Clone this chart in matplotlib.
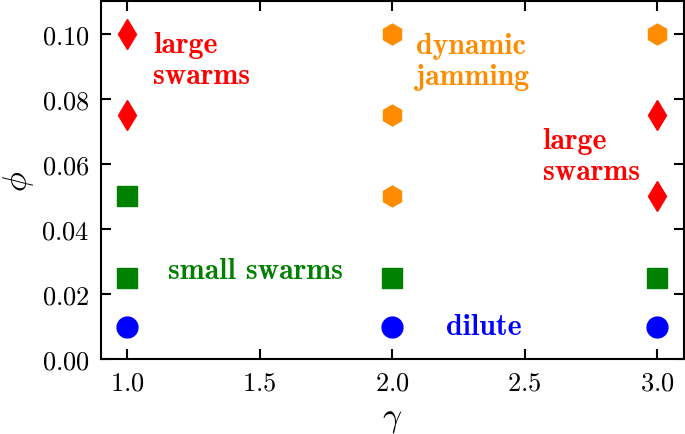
import matplotlib
matplotlib.use("Agg")
import matplotlib.pyplot as plt

plt.rcParams['font.family'] = ['cmr10']
plt.rcParams['mathtext.fontset'] = 'cm'
plt.rcParams['axes.formatter.use_mathtext'] = True
plt.rcParams['axes.unicode_minus'] = False

# regime points (gamma, phi)
dilute_g = [1.0, 2.0, 3.0]
dilute_p = [0.01, 0.01, 0.01]
small_g = [1.0, 1.0, 2.0, 3.0]
small_p = [0.025, 0.05, 0.025, 0.025]
large_g = [1.0, 1.0, 3.0, 3.0]
large_p = [0.075, 0.10, 0.05, 0.075]
jam_g = [2.0, 2.0, 2.0, 3.0]
jam_p = [0.05, 0.075, 0.10, 0.10]

fig = plt.figure(figsize=(6.85, 4.35), dpi=100)
ax = fig.add_axes([0.147, 0.172, 0.851, 0.823])

ax.plot(dilute_g, dilute_p, 'o', color='blue', ms=15, ls='none')
ax.plot(small_g, small_p, 's', color='green', ms=15, ls='none')
ax.plot(large_g, large_p, 'd', color='red', ms=15.5, ls='none')
ax.plot(jam_g, jam_p, 'h', color='darkorange', ms=15, ls='none')

fs = 21.5
ax.text(1.098, 0.092, 'large\nswarms', color='red', fontsize=fs, family='cmb10',
        va='center', ha='left', linespacing=1.2)
ax.text(2.09, 0.0915, 'dynamic\njamming', color='darkorange', fontsize=fs, family='cmb10',
        va='center', ha='left', linespacing=1.2)
ax.text(2.568, 0.0624, 'large\nswarms', color='red', fontsize=fs, family='cmb10',
        va='center', ha='left', linespacing=1.2)
ax.text(1.155, 0.0272, 'small swarms', color='green', fontsize=fs, family='cmb10',
        va='center', ha='left')
ax.text(2.204, 0.0101, 'dilute', color='blue', fontsize=fs, family='cmb10',
        va='center', ha='left')

ax.set_xlim(0.9, 3.1)
ax.set_ylim(0, 0.11)
ax.set_xticks([1.0, 1.5, 2.0, 2.5, 3.0])
ax.set_yticks([0.0, 0.02, 0.04, 0.06, 0.08, 0.10])
ax.set_xlabel(r'$\gamma$', fontsize=24, labelpad=8)
ax.set_ylabel(r'$\phi$', fontsize=24, labelpad=4)
ax.tick_params(direction='in', top=True, right=True, length=7, width=1.5,
               labelsize=19, pad=8)
for s in ax.spines.values():
    s.set_linewidth(1.5)

fig.savefig('out.png', dpi=100)
